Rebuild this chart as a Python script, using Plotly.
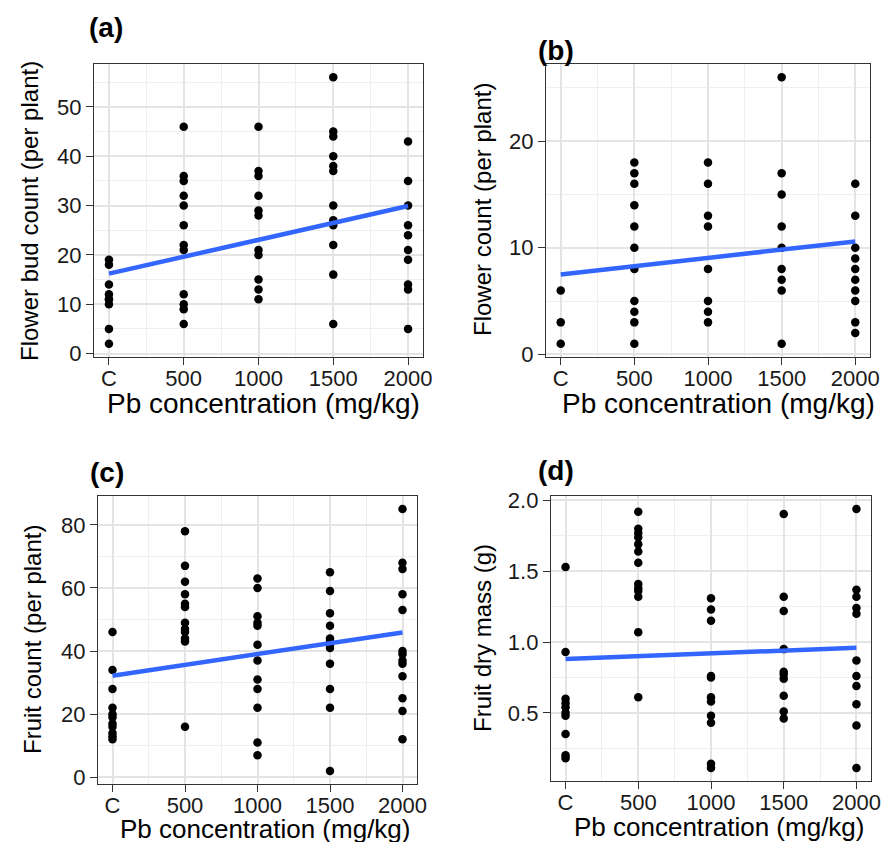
import plotly.graph_objects as go

# ---------------- data ----------------
dose_labels = ["C", "500", "1000", "1500", "2000"]
dose_values = [0, 500, 1000, 1500, 2000]

# (a) Flower bud count per plant
bud_C = [19, 18, 14, 12, 11, 11, 10, 5, 2]
bud_500 = [46, 36, 35, 32, 30, 26, 22, 21, 12, 10, 9, 6]
bud_1000 = [46, 37, 36, 32, 29, 28, 21, 20, 15, 13, 11]
bud_1500 = [56, 45, 44, 40, 38, 37, 30, 27, 26, 22, 16, 6]
bud_2000 = [43, 35, 30, 26, 24, 21, 19, 14, 13, 5]
bud_trend = [16.2, 29.9]  # fitted line at C and 2000

# (b) Flower count per plant
flw_C = [6, 3, 1]
flw_500 = [18, 17, 16, 14, 12, 10, 8, 5, 4, 3, 1]
flw_1000 = [18, 16, 13, 12, 8, 5, 4, 3]
flw_1500 = [26, 17, 15, 12, 10, 8, 7, 6, 1]
flw_2000 = [16, 13, 10, 9, 8, 7, 6, 5, 3, 2]
flw_trend = [7.5, 10.6]

# (c) Fruit count per plant
frc_C = [46, 34, 28, 22, 20, 19, 17, 16, 14, 13, 12]
frc_500 = [78, 67, 62, 58, 55, 54, 49, 47, 46, 44, 43, 16]
frc_1000 = [63, 60, 51, 49, 48, 42, 37, 31, 28, 22, 11, 7]
frc_1500 = [65, 59, 52, 48, 44, 43, 42, 41, 36, 28, 22, 2]
frc_2000 = [85, 68, 66, 58, 53, 40, 39, 37, 36, 32, 25, 21, 12]
frc_trend = [32.2, 45.9]

# (d) Fruit dry mass (g)
frm_C = [1.53, 0.93, 0.60, 0.57, 0.54, 0.50, 0.48, 0.35, 0.20, 0.18]
frm_500 = [1.92, 1.80, 1.77, 1.74, 1.69, 1.64, 1.56, 1.41, 1.38, 1.36, 1.32, 1.07, 0.61]
frm_1000 = [1.31, 1.23, 1.15, 0.76, 0.75, 0.61, 0.58, 0.48, 0.43, 0.14, 0.11]
frm_1500 = [1.905, 1.32, 1.22, 0.95, 0.79, 0.77, 0.74, 0.62, 0.51, 0.46]
frm_2000 = [1.94, 1.37, 1.32, 1.24, 1.20, 0.87, 0.76, 0.69, 0.56, 0.41, 0.11]
frm_trend = [0.88, 0.96]

x_title = "Pb concentration (mg/kg)"
panel_letters = ["(a)", "(b)", "(c)", "(d)"]
y_titles = ["Flower bud count (per plant)", "Flower count (per plant)",
            "Fruit count (per plant)", "Fruit dry mass (g)"]

panels = [
    dict(groups=[bud_C, bud_500, bud_1000, bud_1500, bud_2000], trend=bud_trend, dtick=10, fmt=""),
    dict(groups=[flw_C, flw_500, flw_1000, flw_1500, flw_2000], trend=flw_trend, dtick=10, fmt=""),
    dict(groups=[frc_C, frc_500, frc_1000, frc_1500, frc_2000], trend=frc_trend, dtick=20, fmt=""),
    dict(groups=[frm_C, frm_500, frm_1000, frm_1500, frm_2000], trend=frm_trend, dtick=0.5, fmt=".1f"),
]

# ---------------- layout geometry (page pixels, 896x850 window) ----------------
OFF = 8            # default body margin of the html page
W, H = 880, 834    # figure size so that the page fits the window exactly
boxes = [  # left, right, top, bottom (page pixels)
    (94, 423, 64, 357),
    (546, 870, 64, 357),
    (98, 417, 496, 784),
    (551, 871, 496, 781),
]
letter_pos = [(106, 28), (556, 50), (107, 472), (556, 470)]
ytitle_pos = [(29, 211), (482, 210), (32, 640), (482, 638)]
xtitle_pos = [(263, 404), (718, 404), (265, 829), (719, 827)]
xtitle_size = [28, 28, 26, 26]


def px(x):
    return (x - OFF) / W


def py(y):
    return 1 - (y - OFF) / H


FONT = "Liberation Sans, Arial, sans-serif"

fig = go.Figure()
layout = dict(
    width=W, height=H,
    margin=dict(l=0, r=0, t=0, b=0),
    paper_bgcolor="white", plot_bgcolor="white",
    showlegend=False,
    font=dict(family=FONT, color="black"),
)

annotations = []
for i, p in enumerate(panels):
    n = i + 1
    xa = "x" if n == 1 else f"x{n}"
    ya = "y" if n == 1 else f"y{n}"
    xs, ys = [], []
    for dv, grp in zip(dose_values, p["groups"]):
        xs += [dv] * len(grp)
        ys += grp
    fig.add_trace(go.Scatter(
        x=xs, y=ys, mode="markers", xaxis=xa, yaxis=ya,
        marker=dict(color="black", size=8.5, line=dict(width=0)),
        hoverinfo="skip"))
    fig.add_trace(go.Scatter(
        x=[dose_values[0], dose_values[-1]], y=p["trend"], mode="lines",
        xaxis=xa, yaxis=ya, line=dict(color="#3366FF", width=4.5),
        hoverinfo="skip"))

    allv = [v for g in p["groups"] for v in g]
    lo, hi = min(allv), max(allv)
    pad = 0.05 * (hi - lo)
    xlo, xhi = min(dose_values), max(dose_values)
    xpad = 0.05 * (xhi - xlo)

    l, r, t, b = boxes[i]
    common = dict(
        showline=True, mirror=True, linecolor="#333333", linewidth=1.3,
        ticks="outside", ticklen=7, tickwidth=1.3, tickcolor="#333333",
        showgrid=True, gridcolor="#E4E4E4", gridwidth=1.5, zeroline=False,
        tickfont=dict(family=FONT, size=22, color="#1a1a1a"),
        automargin=False, fixedrange=True,
    )
    layout["xaxis" if n == 1 else f"xaxis{n}"] = dict(
        common, domain=[px(l), px(r)], anchor=ya,
        range=[xlo - xpad, xhi + xpad],
        tickmode="array", tickvals=dose_values, ticktext=dose_labels,
        ticklabelstandoff=-6,
        minor=dict(tickmode="linear", tick0=0, dtick=250, showgrid=True,
                   gridcolor="#EFEFEF", gridwidth=1.0, ticks=""),
    )
    layout["yaxis" if n == 1 else f"yaxis{n}"] = dict(
        common, domain=[py(b), py(t)], anchor=xa,
        range=[lo - pad, hi + pad],
        tickmode="linear", tick0=0, dtick=p["dtick"], tickformat=p["fmt"],
        minor=dict(tickmode="linear", tick0=0, dtick=p["dtick"] / 2, showgrid=True,
                   gridcolor="#EFEFEF", gridwidth=1.0, ticks=""),
    )

    lx, ly = letter_pos[i]
    annotations.append(dict(
        text=f"<b>{panel_letters[i]}</b>", x=px(lx), y=py(ly),
        xref="paper", yref="paper", xanchor="center", yanchor="middle",
        showarrow=False, font=dict(family=FONT, size=28, color="black")))
    tx, ty = xtitle_pos[i]
    annotations.append(dict(
        text=x_title, x=px(tx), y=py(ty),
        xref="paper", yref="paper", xanchor="center", yanchor="middle",
        showarrow=False, font=dict(family=FONT, size=xtitle_size[i], color="black")))
    yx, yy = ytitle_pos[i]
    annotations.append(dict(
        text=y_titles[i], x=px(yx), y=py(yy), textangle=-90,
        xref="paper", yref="paper", xanchor="center", yanchor="middle",
        showarrow=False, font=dict(family=FONT, size=24, color="black")))

layout["annotations"] = annotations
fig.update_layout(**layout)
fig.write_html("out.html")
